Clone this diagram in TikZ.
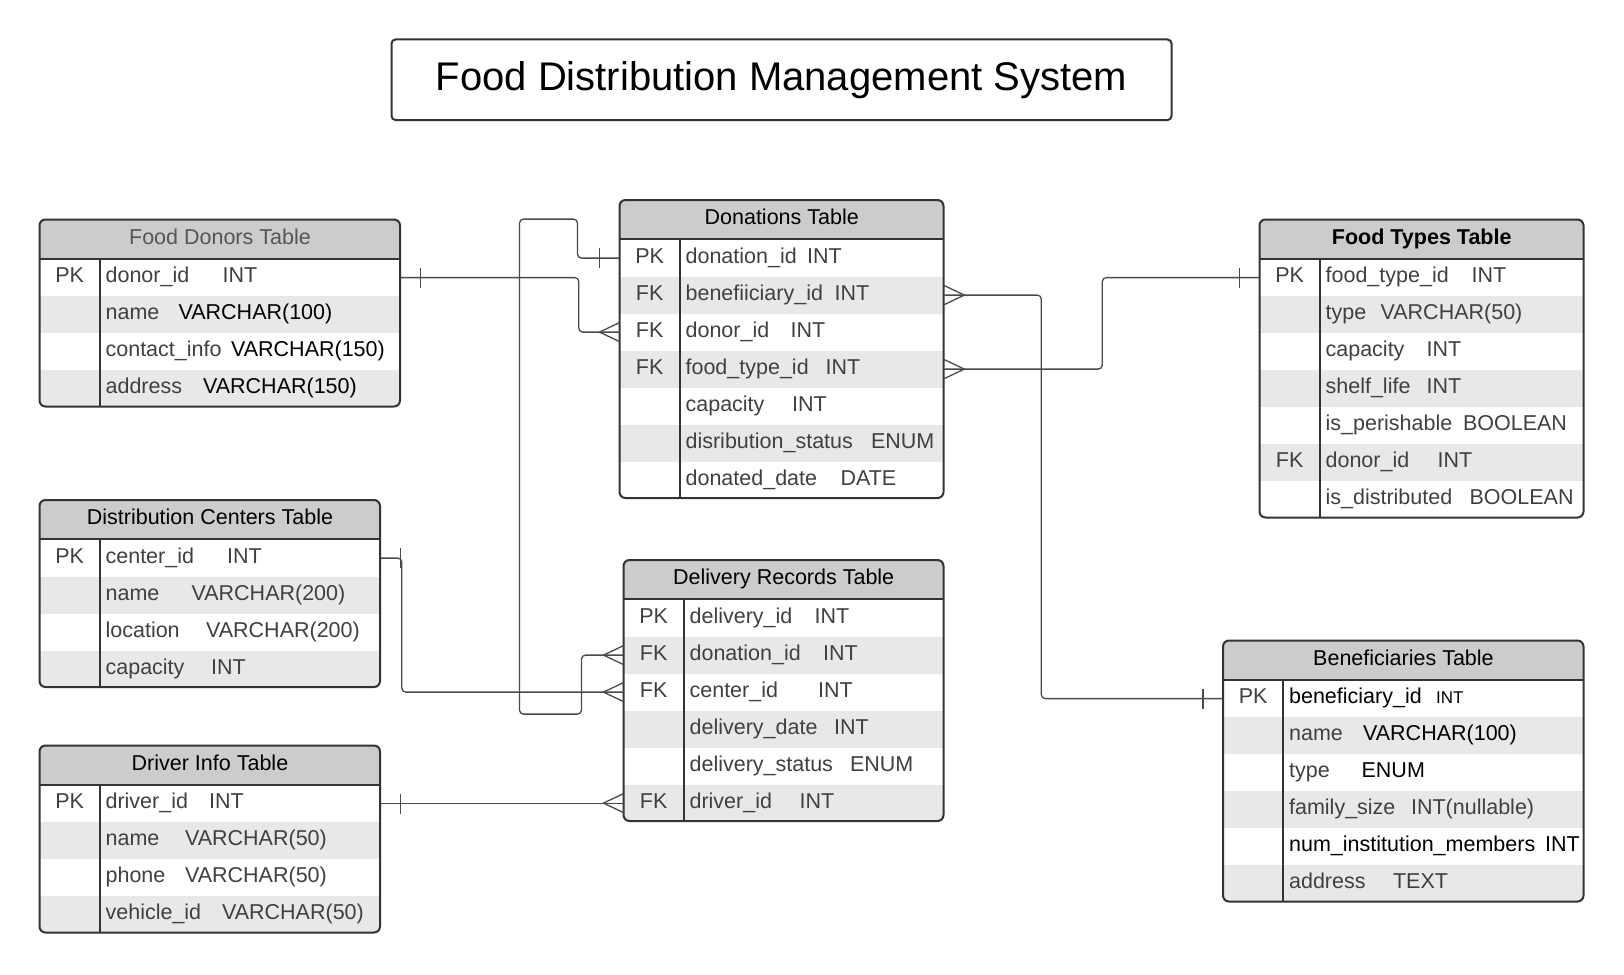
\documentclass[tikz,border=0pt]{standalone}
\usepackage{fontspec}
\setmainfont{Liberation Sans}
\usetikzlibrary{positioning}

\definecolor{headgray}{HTML}{CCCCCC}
\definecolor{rowgray}{HTML}{E8E8E8}
\definecolor{txtgray}{HTML}{404040}
\definecolor{hdrtxt}{HTML}{555555}
\definecolor{edgegray}{HTML}{333333}
\definecolor{relgray}{HTML}{4A4A4A}

\newcommand{\fieldtype}[3]{\makebox[#1pt][l]{#2}#3}
\newcommand{\blk}[1]{\textcolor{black}{#1}}

\tikzset{
  tblhead/.style={fill=headgray, inner sep=0pt, minimum height=39pt, text height=15pt, text depth=5pt, anchor=north west, text=black},
  keycell/.style={inner sep=0pt, minimum width=60pt, minimum height=37pt, text height=15pt, text depth=5pt, anchor=north west, text=txtgray},
  fieldcell/.style={inner xsep=5.5pt, inner ysep=0pt, minimum height=37pt, text height=15pt, text depth=5pt, align=left, text=txtgray},
  tblframe/.style={draw=edgegray, line width=2pt, rounded corners=6pt},
  tblline/.style={draw=edgegray, line width=2pt},
  rel/.style={draw=relgray, line width=1.3pt, rounded corners=4pt},
  crow/.pic={\draw[rel, sharp corners] (0,-9.5) -- (-20,0) -- (0,9.5);},
  onebar/.pic={\draw[rel, sharp corners] (-20,-10) -- (-20,10);},
}

% #1 name, #2 top left, #3 width, #4 rows, #5 title, #6 key/field list
\newcommand{\ertable}[6]{%
  \pgfmathsetmacro\tblh{#4*37}
  \pgfmathsetmacro\tblt{#4*37+39}
  \pgfmathsetmacro\tblfw{#3-60}
  \pgfmathsetmacro\tbltw{#3-71}
  \begin{scope}
    \clip[rounded corners=6pt] #2 rectangle ++(#3,\tblt);
    \node[tblhead, minimum width=#3pt] (#1) at #2 {#5};
    \foreach [count=\i] \k/\f in {#6} {
      \ifodd\i\relax \def\rowfill{white}\else\def\rowfill{rowgray}\fi
      \pgfmathsetmacro\rowdy{(\i-1)*37}
      \node[keycell, fill=\rowfill] (#1-k\i) at ([yshift=-\rowdy pt]#1.south west) {\k};
      \node[fieldcell, fill=\rowfill, minimum width=\tblfw pt, text width=\tbltw pt, right=0pt of #1-k\i] (#1-\i) {\f};
    }
  \end{scope}
  \draw[tblline] (#1.south west) -- (#1.south east);
  \draw[tblline] ([xshift=60pt]#1.south west) -- ++(0,\tblh);
  \draw[tblframe] #2 rectangle ++(#3,\tblt);
}

\begin{document}
\begin{tikzpicture}[x=1pt, y=-1pt, font=\fontsize{21.5}{25}\selectfont]
\fill[white] (0,0) rectangle (1624,974);
\useasboundingbox (0,0) rectangle (1624,974);

\node[draw=edgegray, line width=2pt, rounded corners=4pt, minimum width=780pt, minimum height=80.5pt,
      font=\fontsize{40}{48}\selectfont] (title) at (781.5,79.75) {Food Distribution Management System};

\ertable{donors}{(39.5,219.5)}{360.5}{4}{\textcolor{hdrtxt}{Food Donors Table}}{
  PK/{\fieldtype{117}{donor\_id}{INT}},
  {}/{\fieldtype{73}{name}{\blk{VARCHAR(100)}}},
  {}/{\fieldtype{125.5}{contact\_info}{\blk{VARCHAR(150)}}},
  {}/{\fieldtype{97.5}{address}{\blk{VARCHAR(150)}}}}

\ertable{donations}{(619.5,200)}{324}{7}{Donations Table}{
  PK/{\fieldtype{121.5}{donation\_id}{INT}},
  FK/{\fieldtype{149}{benefiiciary\_id}{INT}},
  FK/{\fieldtype{105}{donor\_id}{INT}},
  FK/{\fieldtype{140}{food\_type\_id}{INT}},
  {}/{\fieldtype{106.5}{capacity}{INT}},
  {}/{\fieldtype{185.5}{disribution\_status}{ENUM}},
  {}/{\fieldtype{155}{donated\_date}{DATE}}}

\ertable{foodtypes}{(1259.5,219.5)}{324}{7}{\bfseries Food Types Table}{
  PK/{\fieldtype{146}{food\_type\_id}{INT}},
  {}/{\fieldtype{55}{type}{VARCHAR(50)}},
  {}/{\fieldtype{101}{capacity}{INT}},
  {}/{\fieldtype{101}{shelf\_life}{INT}},
  {}/{\fieldtype{137.5}{is\_perishable}{BOOLEAN}},
  FK/{\fieldtype{112}{donor\_id}{INT}},
  {}/{\fieldtype{144}{is\_distributed}{BOOLEAN}}}

\ertable{centers}{(39.5,500)}{340.5}{4}{Distribution Centers Table}{
  PK/{\fieldtype{121.5}{center\_id}{INT}},
  {}/{\fieldtype{86}{name}{VARCHAR(200)}},
  {}/{\fieldtype{100.5}{location}{VARCHAR(200)}},
  {}/{\fieldtype{105.5}{capacity}{INT}}}

\ertable{delivery}{(623.5,560)}{320}{6}{Delivery Records Table}{
  PK/{\fieldtype{125}{delivery\_id}{INT}},
  FK/{\fieldtype{133.5}{donation\_id}{INT}},
  FK/{\fieldtype{128.5}{center\_id}{INT}},
  {}/{\fieldtype{144.5}{delivery\_date}{INT}},
  {}/{\fieldtype{160.5}{delivery\_status}{ENUM}},
  FK/{\fieldtype{110}{driver\_id}{INT}}}

\ertable{drivers}{(39.5,745.5)}{340.5}{4}{Driver Info Table}{
  PK/{\fieldtype{103.5}{driver\_id}{INT}},
  {}/{\fieldtype{79.5}{name}{VARCHAR(50)}},
  {}/{\fieldtype{79.5}{phone}{VARCHAR(50)}},
  {}/{\fieldtype{116.5}{vehicle\_id}{VARCHAR(50)}}}

\ertable{benef}{(1223,640.5)}{360.5}{6}{Beneficiaries Table}{
  PK/{\blk{\fieldtype{147}{beneficiary\_id}{{\fontsize{17}{20}\selectfont INT}}}},
  {}/{\fieldtype{74}{name}{\blk{VARCHAR(100)}}},
  {}/{\fieldtype{72.5}{type}{\blk{ENUM}}},
  {}/{\fieldtype{122}{family\_size}{INT(nullable)}},
  {}/{\blk{\fieldtype{256}{num\_institution\_members}{INT}}},
  {}/{\fieldtype{104}{address}{TEXT}}}

% relationships
\draw[rel] (donors-1.east) -- ++(178,0) |- (donations-k3.west);
\pic[xscale=-1] at (donors-1.east) {onebar};
\pic at (donations-k3.west) {crow};

\draw[rel] (donations-k1.west) -- ++(-42,0) -- ++(0,-39) -- ++(-58,0) -- ++(0,495)
  -| ([xshift=-42pt]delivery-k2.west) -- (delivery-k2.west);
\pic at (donations-k1.west) {onebar};
\pic at (delivery-k2.west) {crow};

\draw[rel] (centers-1.east) -- ++(21,0) |- (delivery-k3.west);
\pic[xscale=-1] at (centers-1.east) {onebar};
\pic at (delivery-k3.west) {crow};

\draw[rel] (drivers-1.east) -- (drivers-1.east -| delivery-k6.west);
\pic[xscale=-1] at (drivers-1.east) {onebar};
\pic at (delivery-k6.west) {crow};

\draw[rel] (donations-2.east) -- ++(97,0) |- (benef-k1.west);
\pic[xscale=-1] at (donations-2.east) {crow};
\pic at (benef-k1.west) {onebar};

\draw[rel] (donations-4.east) -- ++(158,0) |- (foodtypes-k1.west);
\pic[xscale=-1] at (donations-4.east) {crow};
\pic at (foodtypes-k1.west) {onebar};
\end{tikzpicture}
\end{document}
